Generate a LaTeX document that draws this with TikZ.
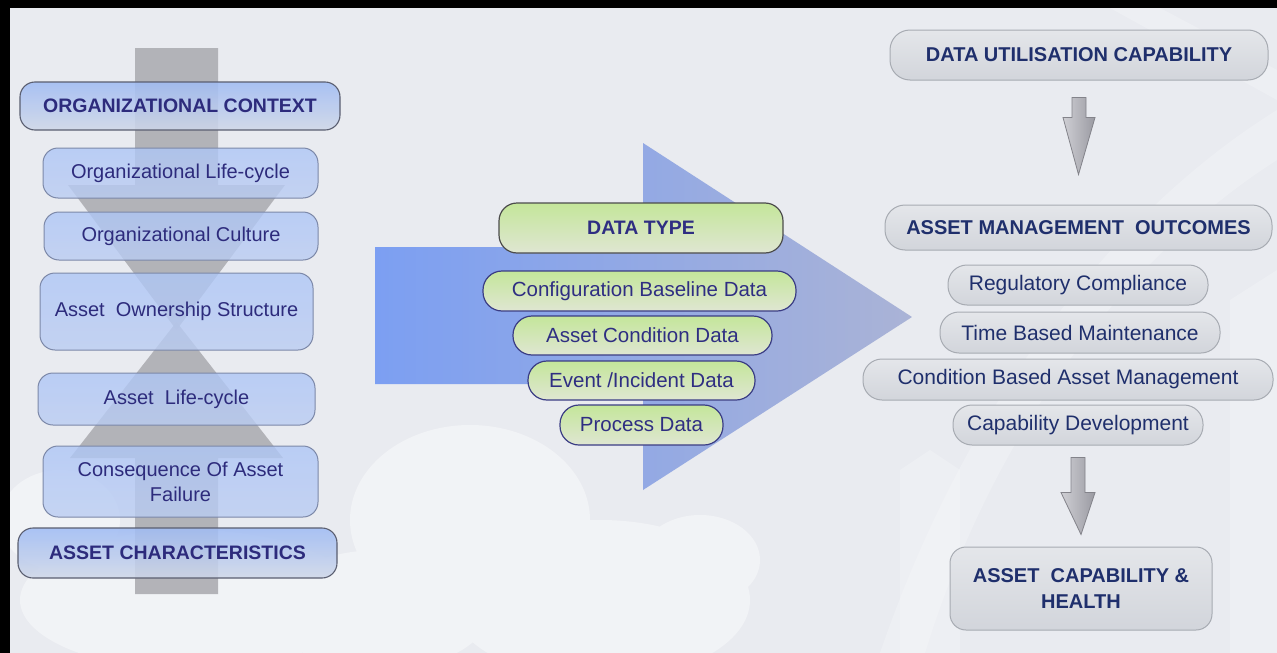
\documentclass[tikz,border=0pt]{standalone}
\usepackage{fontspec}
\setmainfont{Liberation Sans}
\usetikzlibrary{calc}

\definecolor{bg}{HTML}{E9EBF0}
\definecolor{hourglass}{HTML}{ADADB2}
\definecolor{lbtop}{HTML}{A0BCF4}
\definecolor{lbbot}{HTML}{CFD7E8}
\definecolor{lsubtop}{HTML}{AEC6F6}
\definecolor{lsubbot}{HTML}{BACCF2}
\definecolor{lborder}{HTML}{5A5E70}
\definecolor{lsubborder}{HTML}{7C88A8}
\definecolor{lnavy}{HTML}{2D2B7C}
\definecolor{gtop}{HTML}{C4E69A}
\definecolor{gbot}{HTML}{DFE6D2}
\definecolor{gborder}{HTML}{3A3C84}
\definecolor{gnavy}{HTML}{2F2E82}
\definecolor{rtop}{HTML}{E4E6EA}
\definecolor{rbot}{HTML}{D2D5DB}
\definecolor{rborder}{HTML}{A7ABB2}
\definecolor{rnavy}{HTML}{1F2F6C}
\definecolor{bigL}{HTML}{7C9FF2}
\definecolor{bigR}{HTML}{AAB3D6}
\definecolor{arrL}{HTML}{CFCFD4}
\definecolor{arrR}{HTML}{9A9AA2}

\tikzset{
  base/.style={anchor=center, inner sep=2pt, align=center, text opacity=1},
  lhead/.style={base, draw=lborder, line width=1.1pt, rounded corners=15pt,
    top color=lbtop, bottom color=lbbot, fill opacity=0.88,
    text=lnavy, font=\bfseries\fontsize{19.5}{23}\selectfont},
  lsub/.style={base, draw=lsubborder, line width=1pt, rounded corners=15pt,
    top color=lsubtop, bottom color=lsubbot, fill opacity=0.8,
    text=lnavy, font=\fontsize{20}{25}\selectfont},
  ghead/.style={base, draw=black!70, line width=1.2pt, rounded corners=18pt,
    top color=gtop, bottom color=gbot, text=gnavy,
    font=\bfseries\fontsize{19.5}{23}\selectfont},
  gsub/.style={base, draw=gborder, line width=1.2pt, rounded corners=19pt,
    top color=gtop, bottom color=gbot, text=gnavy,
    font=\fontsize{20.5}{23}\selectfont},
  rhead/.style={base, draw=rborder, line width=1pt, rounded corners=20pt,
    top color=rtop, bottom color=rbot, text=rnavy,
    font=\bfseries\fontsize{20}{24}\selectfont},
  rsub/.style={base, draw=rborder, line width=1pt, rounded corners=19pt,
    top color=rtop, bottom color=rbot, text=rnavy,
    font=\fontsize{21}{24}\selectfont},
  rfinal/.style={base, draw=rborder, line width=1pt, rounded corners=16pt,
    top color=rtop, bottom color=rbot, text=rnavy,
    font=\bfseries\fontsize{20}{26}\selectfont},
  cloud/.style={fill=white, opacity=0.4},
  beam/.style={fill=white, opacity=0.22},
  glass/.style={fill=hourglass, fill opacity=0.9},
  grayarr/.style={draw=arrR!85!black, line width=0.8pt, left color=arrL, right color=arrR},
}

\begin{document}
\begin{tikzpicture}[x=1pt, y=-1pt]
\useasboundingbox (0,0) rectangle (1277,653);

% backdrop with soft clouds and light beams
\fill[bg] (0,0) rectangle (1277,653);
\fill[cloud] (470,520) ellipse (120 and 95) (600,600) ellipse (150 and 80)
  (380,610) ellipse (110 and 60) (190,600) ellipse (170 and 70)
  (700,560) ellipse (60 and 45) (60,520) ellipse (60 and 50);
\fill[beam] (880,653) .. controls (960,420) and (1100,220) .. (1277,110)
  -- (1277,160) .. controls (1120,260) and (990,440) .. (925,653) -- cycle;
\fill[beam] (1110,8) -- (1160,8) -- (1277,70) -- (1277,100) -- cycle;
\fill[beam] (900,653) -- (900,470) -- (930,450) -- (960,470) -- (960,653) -- cycle;
\fill[beam] (1230,653) -- (1230,300) -- (1277,270) -- (1277,653) -- cycle;

% hourglass behind the left column
\fill[glass] (135,48) -- (218,48) -- (218,185) -- (285,185) -- (176.5,330)
  -- (68,185) -- (135,185) -- cycle;
\fill[glass] (135,594) -- (218,594) -- (218,458) -- (283,458) -- (176.5,322)
  -- (70,458) -- (135,458) -- cycle;

% left column
\node[lhead, minimum width=320, minimum height=48] (oc)  at (180,106) {ORGANIZATIONAL CONTEXT};
\node[lsub,  minimum width=275, minimum height=50] (olc) at (180.5,173) {Organizational Life-cycle};
\node[lsub,  minimum width=274, minimum height=48] (ocu) at (181,236) {Organizational Culture};
\node[lsub,  minimum width=273, minimum height=77] (aos) at (176.5,311.5) {Asset\ \ Ownership Structure};
\node[lsub,  minimum width=277, minimum height=52] (alc) at (176.5,399) {Asset\ \ Life-cycle};
\node[lsub,  minimum width=275, minimum height=71] (caf) at (180.5,481.5) {Consequence Of Asset\\Failure};
\node[lhead, minimum width=319, minimum height=50] (ach) at (177.5,553) {ASSET CHARACTERISTICS};

% big arrow in the middle
\shade[left color=bigL, right color=bigR]
  (375,247) -- (643,247) -- (643,143) -- (912,317) -- (643,490) -- (643,384) -- (375,384) -- cycle;

\node[ghead, minimum width=284, minimum height=50] (dt)  at (641,228) {DATA TYPE};
\node[gsub,  minimum width=313, minimum height=40] (cbd) at (639.5,291) {Configuration Baseline Data};
\node[gsub,  minimum width=259, minimum height=39] (acd) at (642.5,335.5) {Asset Condition Data};
\node[gsub,  minimum width=227, minimum height=39] (eid) at (641.5,380.5) {Event /Incident Data};
\node[gsub,  minimum width=163, minimum height=40] (pd)  at (641.5,425) {Process Data};

% right column
\node[rhead,  minimum width=378, minimum height=50] (duc)  at (1079,55) {DATA UTILISATION CAPABILITY};
\node[rhead,  minimum width=387, minimum height=45] (amo)  at (1078.5,227.5) {ASSET MANAGEMENT\ \ OUTCOMES};
\node[rsub,   minimum width=260, minimum height=40] (rc)   at (1078,285) {Regulatory Compliance};
\node[rsub,   minimum width=280, minimum height=41] (tbm)  at (1080,332.5) {Time Based Maintenance};
\node[rsub,   minimum width=410, minimum height=41] (cbam) at (1068,379.5) {Condition Based Asset Management};
\node[rsub,   minimum width=250, minimum height=40] (cd)   at (1078,425) {Capability Development};
\node[rfinal, minimum width=262, minimum height=83] (ahc)  at (1081,588.5) {ASSET\ \ CAPABILITY \&\\HEALTH};

% block arrows between the right-hand stages
\coordinate (a1top) at ($(duc.south)+(0,17)$);
\coordinate (a1tip) at ($(amo.north)+(0,-30)$);
\draw[grayarr] ($(a1top)+(-7,0)$) -- ($(a1top)+(7,0)$) -- ($(a1top)+(7,20)$)
  -- ($(a1top)+(16,20)$) -- (a1tip) -- ($(a1top)+(-16,20)$) -- ($(a1top)+(-7,20)$) -- cycle;

\coordinate (a2top) at ($(cd.south)+(0,12)$);
\coordinate (a2tip) at ($(ahc.north)+(0,-12)$);
\draw[grayarr] ($(a2top)+(-7,0)$) -- ($(a2top)+(7,0)$) -- ($(a2top)+(7,35)$)
  -- ($(a2top)+(17,35)$) -- (a2tip) -- ($(a2top)+(-17,35)$) -- ($(a2top)+(-7,35)$) -- cycle;

% frame edges
\fill[black] (0,0) rectangle (1277,8);
\fill[black] (0,0) rectangle (10,653);
\end{tikzpicture}
\end{document}
